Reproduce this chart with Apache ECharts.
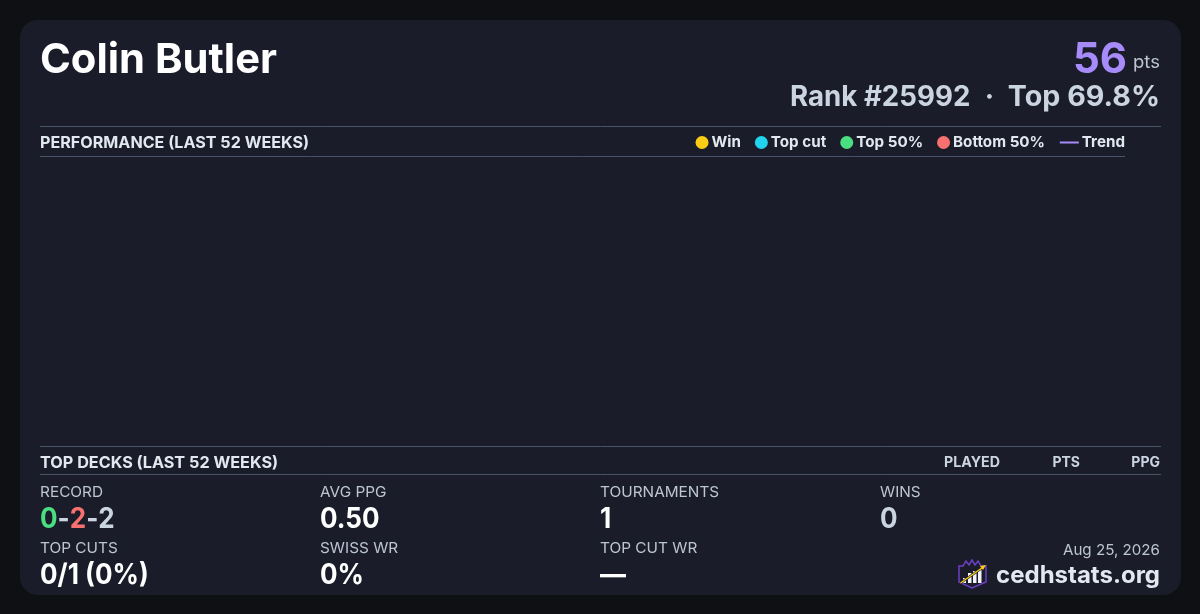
<!DOCTYPE html>
<html><head><meta charset="utf-8">
<style>html,body{margin:0;padding:0;background:#0f1014;width:1200px;height:614px;overflow:hidden}#c{width:1200px;height:614px}</style>
<script src="https://cdn.jsdelivr.net/npm/echarts@6/dist/echarts.min.js"></script>
</head><body><div id="c"></div>
<script>
const playerName = 'Colin Butler';
const points = '56';
const rankText = 'Rank #25992';
const topText = 'Top 69.8%';
const legendNames = ['Win', 'Top cut', 'Top 50%', 'Bottom 50%', 'Trend'];
const legendColors = ['#facc15', '#22d3ee', '#4ade80', '#f87171', '#a78bfa'];
const deckColumns = ['PLAYED', 'PTS', 'PPG'];
const statLabels = ['RECORD', 'AVG PPG', 'TOURNAMENTS', 'WINS', 'TOP CUTS', 'SWISS WR', 'TOP CUT WR'];
const statValues = ['', '0.50', '1', '0', '0/1 (0%)', '0%', '—'];
const weeks = [];
const winPts = [], topCutPts = [], top50Pts = [], bottom50Pts = [], trendPts = [];

const F = 'Inter, "Noto Sans", sans-serif';
// text helper: takes the baseline y and converts to zrender's top-aligned box; sx stretches horizontally
const txt = (x, y, text, weight, size, fill, align, sx) => ({type:'text', x, y:y - size*0.81, scaleX:sx||1, silent:true,
  style:{text, font:weight+' '+size+'px '+F, fill, align:align||'left', verticalAlign:'top'}});
const rule = (x1, x2, y) => ({type:'line', silent:true, shape:{x1, y1:y+.5, x2, y2:y+.5}, style:{stroke:'#475569', lineWidth:1}});
const colX = [40, 320, 600, 880];
const labelColor = '#bcc5d2';
const g = [
  {type:'rect', silent:true, shape:{x:20, y:20, width:1161, height:575, r:18}, style:{fill:'#1a1d29'}},
  txt(40, 73, playerName, 700, 41.6, '#ffffff', 'left', 1.003),
  txt(1127, 73, points, 700, 42, '#a78bfa', 'right'),
  txt(1160, 68, 'pts', 400, 18, labelColor, 'right', 1.03),
  txt(790, 106, rankText, 700, 28, '#cbd5e1', 'left', .988),
  txt(989.5, 106, '·', 700, 28, '#cbd5e1', 'center'),
  txt(1160, 106, topText, 700, 28, '#cbd5e1', 'right', 1.023),
  rule(40, 1161, 126), rule(40, 1125, 156), rule(40, 1161, 446), rule(40, 1161, 474),
  txt(40, 148, 'PERFORMANCE (LAST 52 WEEKS)', 700, 16, '#e2e8f0', 'left', 1.008),
  txt(40, 468, 'TOP DECKS (LAST 52 WEEKS)', 700, 16, '#e2e8f0', 'left', 1.013),
  txt(1000, 467, deckColumns[0], 700, 14, '#cbd5e1', 'right', 1.015),
  txt(1080, 467, deckColumns[1], 700, 14, '#cbd5e1', 'right', 1.0),
  txt(1160, 467, deckColumns[2], 700, 14, '#cbd5e1', 'right', 1.0),
];
statLabels.forEach((s, i) => {
  const x = colX[i % 4], row = i < 4 ? 0 : 1;
  g.push(txt(x, row ? 553 : 497, s, 400, 14.5, labelColor, 'left', 1.06));
  if (statValues[i]) g.push(txt(x, row ? 584 : 528, statValues[i], 700, 28, i === 3 ? '#cbd5e1' : '#ffffff', 'left', .93));
});
const rec = txt(40, 528, '{a|0}{b|-}{c|2}{b|-}{b|2}', 700, 28, '#cbd5e1', 'left', .93);
rec.style.rich = {a:{font:'700 28px '+F, fill:'#4ade80'}, b:{font:'700 28px '+F, fill:'#cbd5e1'}, c:{font:'700 28px '+F, fill:'#f87171'}};
g.push(rec);
g.push(txt(1160, 555, 'Aug 25, 2026', 400, 15, labelColor, 'right', 1.01));
g.push(txt(1160, 583, 'cedhstats.org', 700, 24, '#e2e8f0', 'right'));
// logo
g.push({type:'polygon', silent:true, shape:{points:[[959,566],[963,566],[966,561],[969,565],[972,560],[975,565],[978,561],[981,566],[986,566],[986,582],[972,588],[959,582]]}, style:{fill:'#1a1d29', stroke:'#6d3fc4', lineWidth:1.5}});
[[963,578,3,5],[968,573,3.5,10],[973,571,3.5,12],[978,569,3.5,14]].forEach(b => g.push({type:'rect', silent:true, shape:{x:b[0], y:b[1], width:b[2], height:b[3]}, style:{fill:'#f1f5f9'}}));
g.push({type:'line', silent:true, shape:{x1:960.5, y1:583, x2:984, y2:566.5}, style:{stroke:'#1a1d29', lineWidth:2.6}});
g.push({type:'line', silent:true, shape:{x1:960.5, y1:583, x2:984, y2:566.5}, style:{stroke:'#facc15', lineWidth:1.4}});
g.push({type:'polygon', silent:true, shape:{points:[[986,565],[980,566],[983,570]]}, style:{fill:'#facc15'}});

const mk = (name, i) => i < 4
  ? {name, type:'scatter', data:[winPts, topCutPts, top50Pts, bottom50Pts][i], symbol:'circle', symbolSize:8, itemStyle:{color:legendColors[i], opacity:1}}
  : {name, type:'line', data:trendPts, showSymbol:false, lineStyle:{color:legendColors[i], width:2}, itemStyle:{color:legendColors[i], opacity:1}};

const legText = {color:'#e2e8f0', fontFamily:F, fontSize:15.2, fontWeight:700, padding:[1,0,0,-2]};
echarts.init(document.getElementById('c'), null, {renderer:'canvas'}).setOption({
  animation:false,
  backgroundColor:'#0f1014',
  grid:{left:40, right:75, top:157, height:289},
  xAxis:{type:'category', data:weeks, show:false},
  yAxis:{type:'value', show:false, min:0, max:4},
  legend:[
    {right:155, top:135, itemGap:14, itemWidth:13, itemHeight:13, padding:0, selectedMode:false, textStyle:legText,
     data:legendNames.slice(0,4).map((name, i) => ({name, icon:'circle', itemStyle:{color:legendColors[i], opacity:1}}))},
    {right:75, top:135, itemWidth:19, itemHeight:2, padding:0, selectedMode:false, textStyle:legText,
     data:[{name:legendNames[4], icon:'rect', itemStyle:{color:legendColors[4], opacity:1}}]}
  ],
  series:legendNames.map(mk),
  graphic:{elements:g.map(e => ({...e, z:-1, zlevel:0}))}
});
</script></body></html>
